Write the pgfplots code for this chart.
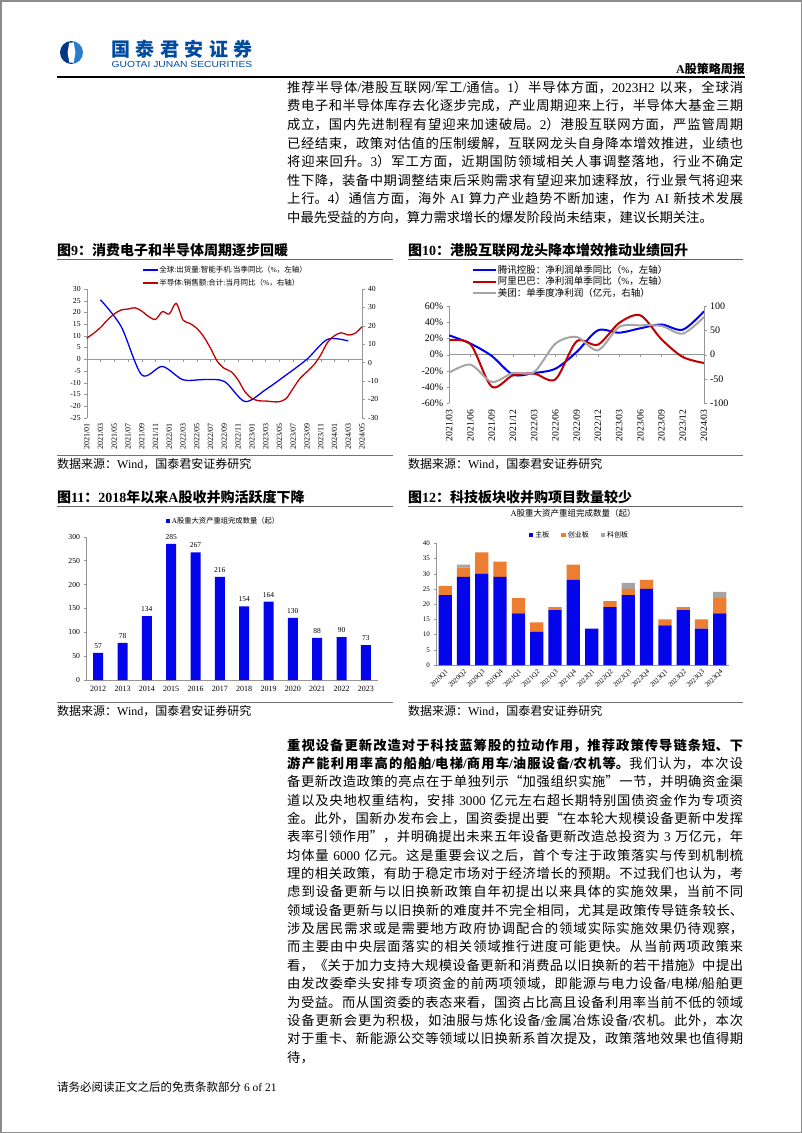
\documentclass[border=0pt]{standalone}
\usepackage{fontspec}
\usepackage{pgfplots}
\pgfplotsset{compat=1.18}
\setmainfont{Liberation Serif}
\newfontfamily\cjk{Noto Sans CJK SC}
\newfontfamily\logosans{Liberation Sans}
\setlength{\parindent}{0pt}
\XeTeXlinebreaklocale "zh"
\XeTeXlinebreakskip=0pt plus 1pt
\XeTeXinterchartokenstate=1
\newXeTeXintercharclass\cjkclass
\newcount\tmpc
\def\setcjkrange#1#2{\tmpc=#1\relax
  \loop \XeTeXcharclass\tmpc=\cjkclass
  \ifnum\tmpc<#2\relax \advance\tmpc by 1 \repeat}
\setcjkrange{"4E00}{"9FFF}
\setcjkrange{"3000}{"303F}
\setcjkrange{"FF00}{"FFEF}
\setcjkrange{"201C}{"201D}
\XeTeXinterchartoks 0 \cjkclass = {\begingroup\cjk}
\XeTeXinterchartoks 4095 \cjkclass = {\begingroup\cjk}
\XeTeXinterchartoks \cjkclass 0 = {\endgroup}
\XeTeXinterchartoks \cjkclass 4095 = {\endgroup}

\definecolor{lblue}{RGB}{0,0,245}
\definecolor{ldred}{RGB}{192,0,0}
\definecolor{lgray}{RGB}{165,165,165}
\definecolor{barblue}{RGB}{5,5,235}
\definecolor{barorange}{RGB}{237,125,49}
\definecolor{axgray}{RGB}{150,150,150}
\definecolor{gtjablue}{RGB}{0,75,160}
\definecolor{gtjadark}{RGB}{0,55,130}
\definecolor{gtjalight}{RGB}{40,125,205}

\pgfplotsset{
  base/.style={scale only axis, anchor=south west,
    /pgf/number format/assume math mode=true,
    axis line style={axgray}, tick style={axgray},
    tick align=outside, major tick length=2.5pt,
    tick label style={black},
    clip=false},
}

\begin{document}
\begin{tikzpicture}
\begin{scope}[x=1pt,y=-1pt]
\fill[white] (0,0) rectangle (802,1133);
\draw[black!45, line width=1.5pt] (0.75,0.75) rectangle (801.25,1132.25);
% logo
\begin{scope}
\clip (71.5,52.5) circle (11.5);
\fill[gtjadark] (59,40) rectangle (71.5,65);
\fill[gtjalight] (71.5,40) rectangle (84,65);
\fill[white] (69.3,42.5) -- (73.7,42.5) -- (75.4,52.5) -- (73.7,62.5) -- (69.3,62.5) -- (67.6,52.5) -- cycle;
\end{scope}
\node[anchor=west, inner sep=0, text=gtjablue, font=\bfseries\fontsize{19}{20}\selectfont] at (111,49.5) {国\hspace{5.5pt}泰\hspace{5.5pt}君\hspace{5.5pt}安\hspace{5.5pt}证\hspace{5.5pt}券};
\node[anchor=west, inner sep=0, text=gtjablue, font=\logosans\fontsize{8.8}{9}\selectfont, xscale=1.17, transform shape] at (111.5,64) {GUOTAI JUNAN SECURITIES};
\node[anchor=east, inner sep=0, font=\bfseries\fontsize{12}{13}\selectfont] at (745,69) {A股策略周报};
\draw[line width=1.2pt] (57,77) -- (745,77);
% paragraph 1
\node[anchor=north west, inner sep=0, text width=456pt, align=justify, font=\fontsize{13.3}{18.6}\selectfont] at (287,80.8) {推荐半导体/港股互联网/军工/通信。1）半导体方面，2023H2 以来，全球消\linebreak
费电子和半导体库存去化逐步完成，产业周期迎来上行，半导体大基金三期\linebreak
成立，国内先进制程有望迎来加速破局。2）港股互联网方面，严监管周期\linebreak
已经结束，政策对估值的压制缓解，互联网龙头自身降本增效推进，业绩也\linebreak
将迎来回升。3）军工方面，近期国防领域相关人事调整落地，行业不确定\linebreak
性下降，装备中期调整结束后采购需求有望迎来加速释放，行业景气将迎来\linebreak
上行。4）通信方面，海外 AI 算力产业趋势不断加速，作为 AI 新技术发展\linebreak
中最先受益的方向，算力需求增长的爆发阶段尚未结束，建议长期关注。};
% figure titles and sources
\node[anchor=west, inner sep=0, font=\bfseries\fontsize{14}{16}\selectfont] at (57,250) {图9：消费电子和半导体周期逐步回暖};
\node[anchor=west, inner sep=0, font=\bfseries\fontsize{14}{16}\selectfont] at (408,250) {图10：港股互联网龙头降本增效推动业绩回升};
\draw[line width=1.3pt, black!60] (57,259.3) -- (393,259.3);
\draw[line width=1.3pt, black!60] (408,259.3) -- (743,259.3);
\draw[line width=0.8pt, black!55] (57,455) -- (393,455);
\draw[line width=0.8pt, black!55] (408,455) -- (743,455);
\node[anchor=west, inner sep=0, font=\fontsize{12}{14}\selectfont] at (57,464) {数据来源：Wind，国泰君安证券研究};
\node[anchor=west, inner sep=0, font=\fontsize{12}{14}\selectfont] at (408,464) {数据来源：Wind，国泰君安证券研究};
\node[anchor=west, inner sep=0, font=\bfseries\fontsize{14}{16}\selectfont] at (57,497) {图11：2018年以来A股收并购活跃度下降};
\node[anchor=west, inner sep=0, font=\bfseries\fontsize{14}{16}\selectfont] at (408,497) {图12：科技板块收并购项目数量较少};
\draw[line width=1.3pt, black!60] (57,506.7) -- (393,506.7);
\draw[line width=1.3pt, black!60] (408,506.7) -- (743,506.7);
\draw[line width=0.8pt, black!55] (57,702.7) -- (393,702.7);
\draw[line width=0.8pt, black!55] (408,702.7) -- (743,702.7);
\node[anchor=west, inner sep=0, font=\fontsize{12}{14}\selectfont] at (57,711) {数据来源：Wind，国泰君安证券研究};
\node[anchor=west, inner sep=0, font=\fontsize{12}{14}\selectfont] at (408,711) {数据来源：Wind，国泰君安证券研究};
% paragraph 2
\node[anchor=north west, inner sep=0, text width=456pt, align=justify, font=\fontsize{13.3}{18.35}\selectfont] at (287,738.3) {{\bfseries 重视设备更新改造对于科技蓝筹股的拉动作用，推荐政策传导链条短、下\linebreak
游产能利用率高的船舶/电梯/商用车/油服设备/农机等。}我们认为，本次设\linebreak
备更新改造政策的亮点在于单独列示“加强组织实施”一节，并明确资金渠\linebreak
道以及央地权重结构，安排 3000 亿元左右超长期特别国债资金作为专项资\linebreak
金。此外，国新办发布会上，国资委提出要“在本轮大规模设备更新中发挥\linebreak
表率引领作用”，并明确提出未来五年设备更新改造总投资为 3 万亿元，年\linebreak
均体量 6000 亿元。这是重要会议之后，首个专注于政策落实与传到机制梳\linebreak
理的相关政策，有助于稳定市场对于经济增长的预期。不过我们也认为，考\linebreak
虑到设备更新与以旧换新政策自年初提出以来具体的实施效果，当前不同\linebreak
领域设备更新与以旧换新的难度并不完全相同，尤其是政策传导链条较长、\linebreak
涉及居民需求或是需要地方政府协调配合的领域实际实施效果仍待观察，\linebreak
而主要由中央层面落实的相关领域推行进度可能更快。从当前两项政策来\linebreak
看，《关于加力支持大规模设备更新和消费品以旧换新的若干措施》中提出\linebreak
由发改委牵头安排专项资金的前两项领域，即能源与电力设备/电梯/船舶更\linebreak
为受益。而从国资委的表态来看，国资占比高且设备利用率当前不低的领域\linebreak
设备更新会更为积极，如油服与炼化设备/金属冶炼设备/农机。此外，本次\linebreak
对于重卡、新能源公交等领域以旧换新系首次提及，政策落地效果也值得期\linebreak
待，};
% footer
\node[anchor=west, inner sep=0, font=\fontsize{11.5}{13}\selectfont] at (57,1087) {请务必阅读正文之后的免责条款部分 6 of 21};
\end{scope}

% ===== Figure 9 =====
\begin{axis}[base, at={(86.7pt,-417.7pt)}, width=275.3pt, height=128.7pt,
  xmin=0, xmax=40, ymin=-25, ymax=30,
  axis y line*=left, axis x line*=bottom, x axis line style={draw=none},
  ytick={-25,-20,...,30},
  yticklabel style={font=\fontsize{7.7}{8}\selectfont},
  xtick={0,2,...,40},
  xticklabels={2021/01,2021/03,2021/05,2021/07,2021/09,2021/11,2022/01,2022/03,2022/05,2022/07,2022/09,2022/11,2023/01,2023/03,2023/05,2023/07,2023/09,2023/11,2024/01,2024/03,2024/05},
  x tick style={draw=none},
  xticklabel style={rotate=90, anchor=east, font=\fontsize{8}{9}\selectfont},
]
\draw[axgray] (axis cs:0,0) -- (axis cs:40,0);
\pgfplotsinvokeforeach{0,2,...,40}{\draw[axgray] (axis cs:#1,0) -- ++(0pt,-2.5pt);}
\addplot[lblue, line width=1.3pt, smooth, mark=none] coordinates {(2,25.4)(5,14)(8,-6.7)(11,-3.1)(14,-8.8)(17,-8.7)(20,-9.5)(23,-18.1)(26,-13)(29,-6.7)(32,0)(35,8.5)(38,7.8)};
\end{axis}
\begin{axis}[base, at={(86.7pt,-417.7pt)}, width=275.3pt, height=128.7pt,
  xmin=0, xmax=40, ymin=-30, ymax=40,
  axis y line*=right, axis x line=none,
  ytick={-30,-20,...,40},
  yticklabel style={font=\fontsize{7.7}{8}\selectfont},
  legend style={at={(axis description cs:0.2,1.187)}, anchor=north west, draw=none, fill=none, inner sep=0pt, row sep=3pt, font=\fontsize{7.5}{8}\selectfont, nodes={inner sep=1pt, text height=6.5pt, text depth=1.5pt}},
  legend cell align=left,
  legend image code/.code={\draw[#1] (0pt,0pt) -- (15pt,0pt);},
]
\addlegendimage{lblue, line width=1.3pt}
\addlegendentry{全球:出货量:智能手机:当季同比（\%，左轴）}
\addplot[ldred, line width=1.3pt, smooth, mark=none] coordinates {(0,13.2)(1,15.9)(2,19)(3,23.1)(4,26.4)(5,28.6)(6,29.1)(7,29.8)(8,28)(9,25)(10,23.5)(11,27.7)(12,26.4)(13,32.2)(14,23.1)(15,21.3)(16,18.6)(17,14.1)(18,7.7)(19,0.5)(20,-3.2)(21,-5)(22,-9.5)(23,-15.9)(24,-19.5)(25,-20.8)(26,-20.9)(27,-21.3)(28,-21.3)(29,-19.5)(30,-14)(31,-8.6)(32,-5)(33,-1.3)(34,4.1)(35,11)(36,14.6)(37,16.2)(38,15)(39,15.9)(40,19.5)};
\addlegendentry{半导体:销售额:合计:当月同比（\%，右轴）}
\end{axis}

% ===== Figure 10 =====
\begin{axis}[base, at={(449.3pt,-403.3pt)}, width=254.7pt, height=97.3pt,
  xmin=0, xmax=12, ymin=-60, ymax=60,
  axis y line*=left, axis x line*=bottom, x axis line style={draw=none},
  ytick={-60,-40,...,60},
  yticklabel={\pgfmathprintnumber{\tick}\%},
  yticklabel style={font=\fontsize{10}{11}\selectfont},
  xtick={0,...,12},
  xticklabels={2021/03,2021/06,2021/09,2021/12,2022/03,2022/06,2022/09,2022/12,2023/03,2023/06,2023/09,2023/12,2024/03},
  x tick style={draw=none},
  xticklabel style={rotate=90, anchor=east, font=\fontsize{9.7}{10}\selectfont},
  legend style={at={(axis description cs:0.089,1.43)}, anchor=north west, draw=none, fill=none, inner sep=0pt, row sep=0pt, font=\fontsize{9.5}{10}\selectfont, nodes={inner sep=0.8pt, text height=8pt, text depth=2pt}},
  legend cell align=left,
  legend image code/.code={\draw[#1] (0pt,0pt) -- (23pt,0pt);},
]
\draw[axgray] (axis cs:0,0) -- (axis cs:12,0);
\pgfplotsinvokeforeach{0,...,12}{\draw[axgray] (axis cs:#1,0) -- ++(0pt,-2.5pt);}
\addplot[lblue, line width=2pt, smooth, mark=none] coordinates {(0,23.8)(1,13.6)(2,-1.6)(3,-24.7)(4,-22.6)(5,-17.3)(6,3.3)(7,30)(8,27.1)(9,32.5)(10,37.2)(11,30.8)(12,53.4)};
\addlegendentry{腾讯控股：净利润单季同比（\%，左轴）}
\addplot[ldred, line width=2pt, smooth, mark=none] coordinates {(0,17.7)(1,12.8)(2,-39.5)(3,-25.5)(4,-23.4)(5,-30.4)(6,16.4)(7,12.3)(8,39)(9,48.5)(10,18.9)(11,-2.9)(12,-10.3)};
\addlegendentry{阿里巴巴：净利润单季同比（\%，左轴）}
\addlegendimage{lgray, line width=2pt}
\addlegendentry{美团：单季度净利润（亿元，右轴）}
\end{axis}
\begin{axis}[base, at={(449.3pt,-403.3pt)}, width=254.7pt, height=97.3pt,
  xmin=0, xmax=12, ymin=-100, ymax=100,
  axis y line*=right, axis x line=none,
  ytick={-100,-50,...,100},
  yticklabel style={font=\fontsize{10}{11}\selectfont},
]
\addplot[lgray, line width=2pt, smooth, mark=none] coordinates {(0,-37)(1,-20.5)(2,-56)(3,-37.7)(4,-35.6)(5,22.6)(6,36.3)(7,8.9)(8,56.8)(9,60.3)(10,58.9)(11,43.2)(12,77.4)};
\end{axis}

% ===== Figure 11 =====
\begin{axis}[base, at={(86pt,-680pt)}, width=292pt, height=143.3pt,
  ybar, bar width=10pt, xmin=-0.5, xmax=11.5, ymin=0, ymax=300,
  axis x line*=bottom, axis y line*=left,
  ytick={0,50,...,300}, xtick={0,...,11},
  xticklabels={2012,2013,2014,2015,2016,2017,2018,2019,2020,2021,2022,2023},
  x tick style={draw=none},
  yticklabel style={font=\fontsize{7.7}{8}\selectfont},
  xticklabel style={font=\fontsize{8}{9}\selectfont},
  nodes near coords={\pgfmathprintnumber[assume math mode=true]{\pgfplotspointmeta}},
  every node near coord/.append style={font=\fontsize{7.5}{8}\selectfont, black, yshift=1pt},
  legend style={at={(axis description cs:0.471,1.11)}, anchor=center, draw=none, fill=none, font=\fontsize{7.3}{8}\selectfont, inner sep=0pt},
]
\addplot[fill=barblue, draw=none, legend image code/.code={\fill[barblue] (0pt,-2pt) rectangle (4pt,2pt);}] coordinates {(0,57)(1,78)(2,134)(3,285)(4,267)(5,216)(6,154)(7,164)(8,130)(9,88)(10,90)(11,73)};
\addlegendentry{A股重大资产重组完成数量（起）}
\end{axis}

% ===== Figure 12 =====
\begin{axis}[base, at={(436pt,-665pt)}, width=293pt, height=121.7pt,
  ybar stacked, bar width=13.3pt, xmin=-0.5, xmax=15.5, ymin=0, ymax=40,
  axis x line*=bottom, axis y line*=left,
  ytick={0,5,...,40}, xtick={0,...,15},
  xticklabels={2020Q1,2020Q2,2020Q3,2020Q4,2021Q1,2021Q2,2021Q3,2021Q4,2022Q1,2022Q2,2022Q3,2022Q4,2023Q1,2023Q2,2023Q3,2023Q4},
  x tick style={draw=none},
  xticklabel style={rotate=45, anchor=north east, font=\fontsize{6.8}{7}\selectfont, inner sep=1pt},
  yticklabel style={font=\fontsize{7}{8}\selectfont},
  title={A股重大资产重组完成数量（起）},
  title style={at={(axis description cs:0.468,1.2)}, anchor=center, font=\fontsize{8.5}{9}\selectfont},
  legend columns=3,
  legend style={at={(axis description cs:0.49,1.068)}, anchor=center, draw=none, fill=none, inner sep=0pt, font=\fontsize{7}{8}\selectfont, /tikz/every even column/.append style={column sep=10pt}},
]
\addplot[fill=barblue, draw=none, legend image code/.code={\fill[barblue] (0pt,-2.2pt) rectangle (4.4pt,2.2pt);}] coordinates {(0,23)(1,29)(2,30)(3,29)(4,17)(5,11)(6,18)(7,28)(8,12)(9,19)(10,23)(11,25)(12,13)(13,18)(14,12)(15,17)};
\addlegendentry{主板}
\addplot[fill=barorange, draw=none, legend image code/.code={\fill[barorange] (0pt,-2.2pt) rectangle (4.4pt,2.2pt);}] coordinates {(0,3)(1,3)(2,7)(3,5)(4,5)(5,3)(6,1)(7,5)(8,0)(9,2)(10,2)(11,3)(12,2)(13,1)(14,3)(15,5)};
\addlegendentry{创业板}
\addplot[fill=lgray, draw=none, legend image code/.code={\fill[lgray] (0pt,-2.2pt) rectangle (4.4pt,2.2pt);}] coordinates {(0,0)(1,1)(2,0)(3,0)(4,0)(5,0)(6,0)(7,0)(8,0)(9,0)(10,2)(11,0)(12,0)(13,0)(14,0)(15,2)};
\addlegendentry{科创板}
\end{axis}
\end{tikzpicture}
\end{document}
